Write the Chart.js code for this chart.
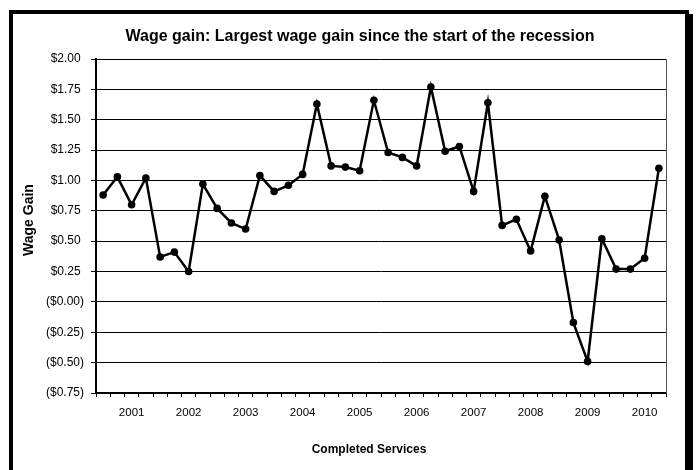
<!DOCTYPE html>
<html>
<head>
<meta charset="utf-8">
<script src="https://cdn.jsdelivr.net/npm/chart.js@4"></script>
<style>
  html, body { margin: 0; padding: 0; background: #fff; overflow: hidden; }
  #wrap { position: relative; width: 697px; height: 470px; }
  #chart { position: absolute; left: 0; top: 0; }
  #frame {
    position: absolute; left: 9px; top: 10px; width: 680px; height: 520px;
    box-sizing: border-box; border: 4px solid #000; box-shadow: 4px 4px 0 #000;
    pointer-events: none;
  }
</style>
</head>
<body>
<div id="wrap">
  <canvas id="chart" width="697" height="470"></canvas>
  <div id="frame"></div>
</div>
<script>
// quarterly slots, year shown on the third quarter of each group
const categories = [
  "", "", "2001", "", "", "", "2002", "", "", "", "2003", "", "", "",
  "2004", "", "", "", "2005", "", "", "", "2006", "", "", "", "2007", "",
  "", "", "2008", "", "", "", "2009", "", "", "", "2010", ""
]
const wageGain = [
  0.88, 1.03, 0.80, 1.02, 0.37, 0.41, 0.25, 0.97, 0.77, 0.65,
  0.60, 1.04, 0.91, 0.96, 1.05, 1.63, 1.12, 1.11, 1.08, 1.66,
  1.23, 1.19, 1.12, 1.77, 1.24, 1.28, 0.91, 1.64, 0.63, 0.68,
  0.42, 0.87, 0.51, -0.17, -0.49, 0.52, 0.27, 0.27, 0.36, 1.10
]
const yMin = -0.75
const yMax = 2.0
const yStep = 0.25

const chartTitle = "Wage gain: Largest wage gain since the start of the recession"
const xTitle = "Completed Services"
const yTitle = "Wage Gain"

const font = "'Liberation Sans', Arial, sans-serif"

const money = (v) => {
  if (v > 0.001) return "$" + v.toFixed(2) + " "
  return "($" + Math.abs(v).toFixed(2) + ")"
}

// plot frame on the right side and the three captions, placed like the Excel original
const extras = {
  id: "extras",
  afterDraw(chart) {
    const { ctx, chartArea } = chart
    ctx.save()
    ctx.strokeStyle = "#555"
    ctx.lineWidth = 1
    ctx.beginPath()
    ctx.moveTo(chartArea.right + 0.5, chartArea.top)
    ctx.lineTo(chartArea.right + 0.5, chartArea.bottom)
    ctx.stroke()

    ctx.fillStyle = "#000"
    ctx.textAlign = "center"
    ctx.textBaseline = "alphabetic"
    ctx.font = "bold 16px " + font
    ctx.fillText(chartTitle, 360, 41)

    ctx.textBaseline = "middle"
    ctx.font = "bold 12px " + font
    ctx.fillText(xTitle, chartArea.left + 273, 450)

    ctx.translate(29, chartArea.top + 161)
    ctx.rotate(-Math.PI / 2)
    ctx.font = "bold 14px " + font
    ctx.fillText(yTitle, 0, 0)
    ctx.restore()
  }
}

new Chart(document.getElementById("chart"), {
  type: "line",
  data: {
    labels: categories,
    datasets: [
      {
        data: wageGain,
        borderColor: "#000",
        backgroundColor: "#000",
        borderWidth: 2.5,
        pointRadius: 3.8,
        pointBorderWidth: 0,
        tension: 0
      }
    ]
  },
  options: {
    responsive: false,
    animation: false,
    layout: { padding: { left: 0, right: 31, top: 59, bottom: 0 } },
    plugins: {
      legend: { display: false },
      tooltip: { enabled: false },
      title: { display: false }
    },
    scales: {
      x: {
        offset: true,
        afterFit: (scale) => { scale.height = 77 },
        grid: {
          offset: true,
          drawOnChartArea: false,
          drawTicks: true,
          tickLength: 4,
          color: "#000"
        },
        border: { display: true, color: "#000", width: 2 },
        ticks: {
          autoSkip: false,
          maxRotation: 0,
          padding: 9,
          color: "#000",
          font: { family: font, size: 11.5 }
        }
      },
      y: {
        min: yMin,
        max: yMax,
        afterFit: (scale) => { scale.width = 96 },
        grid: { color: "#000", lineWidth: 1, tickLength: 5 },
        border: { display: true, color: "#000", width: 2 },
        ticks: {
          stepSize: yStep,
          padding: 7,
          color: "#000",
          font: { family: font, size: 12 },
          callback: (v) => money(v)
        }
      }
    }
  },
  plugins: [extras]
})
</script>
</body>
</html>
